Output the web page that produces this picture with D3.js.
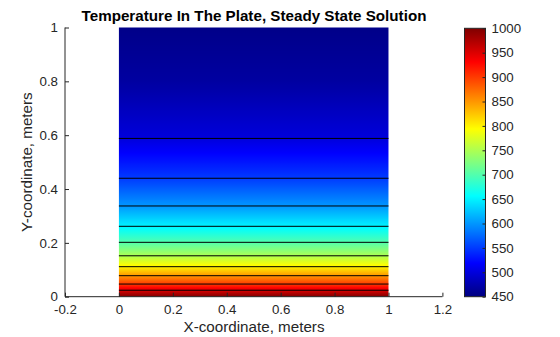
<!DOCTYPE html>
<html>
<head>
<meta charset="utf-8">
<script src="https://cdn.jsdelivr.net/npm/d3@7"></script>
<style>
  html, body { margin: 0; padding: 0; background: #fff; }
  svg { display: block; font-family: "Liberation Sans", Arial, sans-serif; }
</style>
</head>
<body>
<svg id="chart" width="560" height="337"></svg>
<script>
// Steady-state temperature along the plate height (uniform across x)
const profileY = [0, 0.024, 0.047, 0.078, 0.1115, 0.152, 0.202, 0.2615, 0.337, 0.440, 0.588, 0.80, 1.0];
const profileT = [1000, 950, 900, 850, 800, 750, 700, 650, 600, 550, 500, 468, 455];
// Isotherm levels drawn as contour lines
const contourLevels = [500, 550, 600, 650, 700, 750, 800, 850, 900, 950];
// Plate extent
const plateX = [0, 1];
const plateY = [0, 1];
// Axis ticks
const xTicks = [-0.2, 0, 0.2, 0.4, 0.6, 0.8, 1, 1.2];
const yTicks = [0, 0.2, 0.4, 0.6, 0.8, 1];
const cbTicks = [450, 500, 550, 600, 650, 700, 750, 800, 850, 900, 950, 1000];
const cbRange = [450, 1000];

const axisColor = "#262626";
const fontSize = "13.3px";
const labelSize = "15.2px";

// MATLAB-style jet colormap
function jet(t) {
  t = Math.max(0, Math.min(1, t));
  const c = v => Math.round(255 * Math.max(0, Math.min(1, v)));
  return d3.rgb(c(1.5 - Math.abs(4 * t - 3)), c(1.5 - Math.abs(4 * t - 2)), c(1.5 - Math.abs(4 * t - 1))).formatHex();
}
const tNorm = d3.scaleLinear().domain(cbRange).range([0, 1]);
const colorOf = T => jet(tNorm(T));

const svg = d3.select("#chart");
const x = d3.scaleLinear().domain([-0.2, 1.2]).range([65, 442.4]);
const y = d3.scaleLinear().domain([0, 1]).range([296.7, 27.5]);

// temperature as a function of height, and height as a function of temperature
const tempAt = d3.scaleLinear().domain(profileY).range(profileT);
const heightAt = d3.scaleLinear().domain(profileT).range(profileY);

const defs = svg.append("defs");

// Vertical colour ramp of the temperature field
const fieldGrad = defs.append("linearGradient")
  .attr("id", "field")
  .attr("gradientUnits", "userSpaceOnUse")
  .attr("x1", 0).attr("x2", 0)
  .attr("y1", y(plateY[0])).attr("y2", y(plateY[1]));
const nStops = 300;
d3.range(nStops + 1).forEach(i => {
  const f = i / nStops;
  const yy = plateY[0] + f * (plateY[1] - plateY[0]);
  fieldGrad.append("stop").attr("offset", f).attr("stop-color", colorOf(tempAt(yy)));
});

svg.append("rect")
  .attr("x", x(plateX[0])).attr("y", y(plateY[1]))
  .attr("width", x(plateX[1]) - x(plateX[0]))
  .attr("height", y(plateY[0]) - y(plateY[1]))
  .attr("fill", "url(#field)");

// Isotherms
const line = d3.line().x(d => x(d[0])).y(d => y(d[1]));
svg.append("g").selectAll("path")
  .data(contourLevels)
  .join("path")
  .attr("d", lv => line([[plateX[0], heightAt(lv)], [plateX[1], heightAt(lv)]]))
  .attr("fill", "none")
  .attr("stroke", "#000")
  .attr("stroke-width", 1);

// Axes (left and bottom only, ticks pointing inward)
const numFmt = d => String(+(+d).toFixed(1));
const xAxis = d3.axisBottom(x).tickValues(xTicks).tickSize(-4).tickPadding(8).tickFormat(numFmt);
const gx = svg.append("g").attr("transform", `translate(0,${y(0)})`).call(xAxis);
const yAxis = d3.axisLeft(y).tickValues(yTicks).tickSize(-4).tickPadding(7).tickFormat(numFmt);
const gy = svg.append("g").attr("transform", `translate(${x(-0.2)},0)`).call(yAxis);

[gx, gy].forEach(g => {
  g.select(".domain").attr("stroke", axisColor).attr("stroke-width", 1);
  g.selectAll(".tick line").attr("stroke", axisColor);
  g.selectAll(".tick text").attr("fill", axisColor)
    .style("font-size", fontSize).style("font-family", "Liberation Sans, Arial, sans-serif");
});
gx.select(".domain").attr("d", `M${x(-0.2)},0H${x(1.2)}`);
gy.select(".domain").attr("d", `M0,${y(1)}V${y(0)}`);

// Colorbar
const cbX = 464.5, cbW = 21;
const cy = d3.scaleLinear().domain(cbRange).range([296.7, 28.3]);
const cbGrad = defs.append("linearGradient")
  .attr("id", "cb")
  .attr("x1", 0).attr("x2", 0).attr("y1", 1).attr("y2", 0);
d3.range(65).forEach(i => {
  cbGrad.append("stop").attr("offset", i / 64).attr("stop-color", jet(i / 64));
});
svg.append("rect")
  .attr("x", cbX).attr("y", cy(cbRange[1]))
  .attr("width", cbW).attr("height", cy(cbRange[0]) - cy(cbRange[1]))
  .attr("fill", "url(#cb)")
  .attr("stroke", axisColor).attr("stroke-width", 1);
const cbAxis = d3.axisRight(cy).tickValues(cbTicks).tickSize(-3).tickPadding(6).tickFormat(d => String(d));
const gc = svg.append("g").attr("transform", `translate(${cbX + cbW},0)`).call(cbAxis);
gc.select(".domain").remove();
gc.selectAll(".tick line").attr("stroke", axisColor);
gc.selectAll(".tick text").attr("fill", axisColor)
  .style("font-size", fontSize).style("font-family", "Liberation Sans, Arial, sans-serif");

// Titles
svg.append("text")
  .attr("x", 254).attr("y", 21)
  .attr("text-anchor", "middle")
  .attr("font-weight", "bold")
  .attr("font-size", labelSize)
  .attr("fill", "#000")
  .text("Temperature In The Plate, Steady State Solution");

svg.append("text")
  .attr("x", 254).attr("y", 332)
  .attr("text-anchor", "middle")
  .attr("font-size", labelSize)
  .attr("fill", axisColor)
  .text("X-coordinate, meters");

svg.append("text")
  .attr("transform", `translate(32,${(y(0) + y(1)) / 2}) rotate(-90)`)
  .attr("text-anchor", "middle")
  .attr("font-size", labelSize)
  .attr("fill", axisColor)
  .text("Y-coordinate, meters");
</script>
</body>
</html>
